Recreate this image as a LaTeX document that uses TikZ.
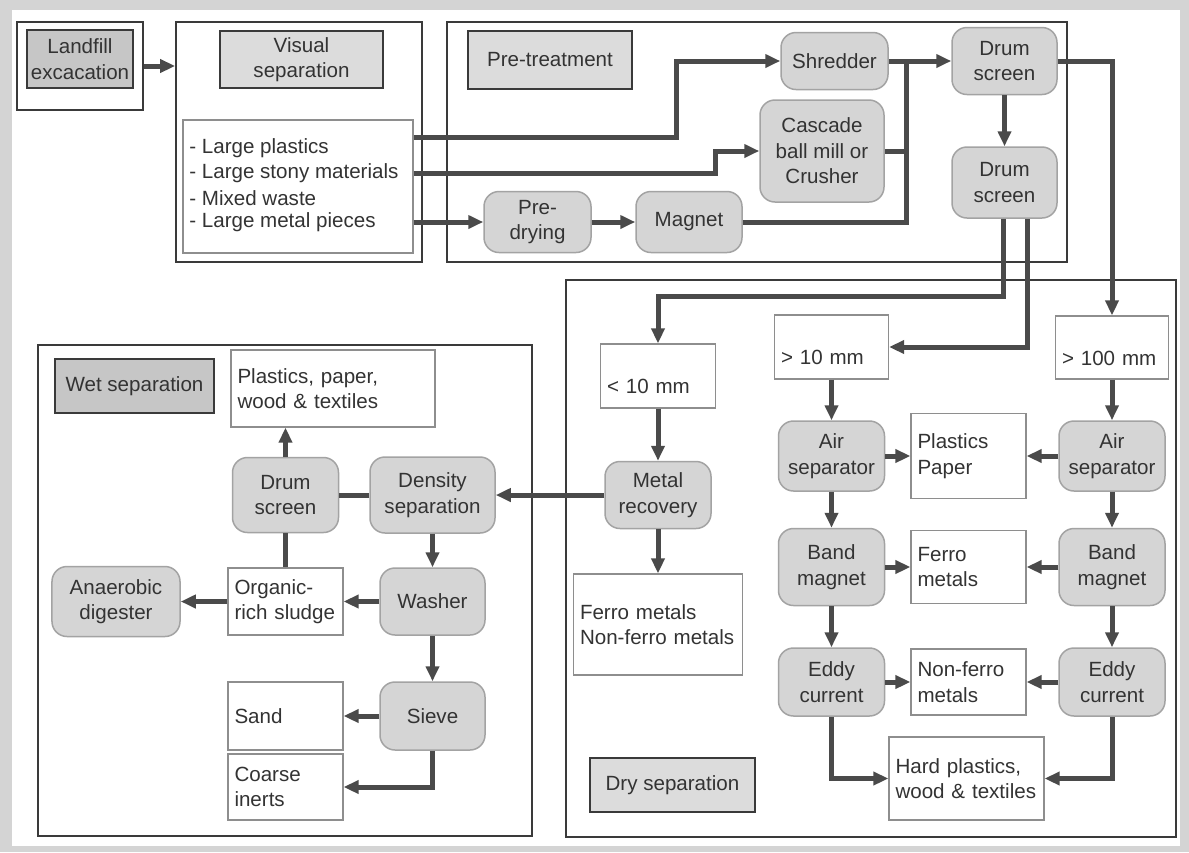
\documentclass[tikz,border=0pt]{standalone}
\usepackage{fontspec}
\setmainfont{Liberation Sans}
\usetikzlibrary{arrows.meta,positioning,calc}
\definecolor{ink}{HTML}{333333}
\definecolor{frameline}{HTML}{3A3A3A}
\definecolor{flowgray}{HTML}{4A4A4A}
\definecolor{procfill}{HTML}{D5D5D5}
\definecolor{procline}{HTML}{A3A3A3}
\definecolor{tagfill}{HTML}{DCDCDC}
\definecolor{tagdark}{HTML}{C6C6C6}
\definecolor{boxline}{HTML}{8E8E8E}
\definecolor{pagegray}{HTML}{D4D4D4}
\tikzset{
  frame/.style={draw=frameline,line width=0.35mm,inner sep=0pt},
  tag/.style={draw=frameline,fill=tagfill,line width=0.35mm,align=center,
              inner sep=0.5mm},
  darktag/.style={tag,fill=tagdark},
  proc/.style={draw=procline,fill=procfill,line width=0.3mm,rounded corners=3mm,
               align=center,inner sep=0.5mm},
  outbox/.style={draw=boxline,fill=white,line width=0.25mm,align=left,
                 inner xsep=1.3mm,inner ysep=0.8mm},
  item/.style={anchor=west,inner sep=0pt},
  lowtext/.style={text height=7.6mm,text depth=0.5mm},
  flow/.style={draw=flowgray,line width=1mm,-{Triangle[length=3mm,width=2.6mm]}},
  link/.style={draw=flowgray,line width=1mm}
}

\begin{document}
\begin{tikzpicture}[x=0.2mm,y=-0.2mm,text=ink,font=\fontsize{11.7}{14.5}\selectfont]
    \useasboundingbox (0,0) rectangle (1189,852);
    \fill[pagegray] (0,0) rectangle (1189,852);
    \fill[white] (12,10) rectangle (1180,846);

    % frames
    \node[frame,minimum width=25.2mm,minimum height=17.6mm] (fland) at (80,66) {};
    \node[frame,minimum width=49.2mm,minimum height=48mm] (fvis) at (299,142) {};
    \node[frame,minimum width=124mm,minimum height=48mm] (fpre) at (757,142) {};
    \node[frame,minimum width=98.8mm,minimum height=98.2mm] (fwet) at (285,590.5) {};
    \node[frame,minimum width=122mm,minimum height=111.4mm] (fdry) at (871,558.5) {};

    \node[darktag,minimum width=21.2mm,minimum height=11.6mm] (tland) at (80,59) {Landfill\\excacation};
    \node[tag,minimum width=32.6mm,minimum height=11.4mm] (tvis) at (301.5,59.5) {Visual\\separation};
    \node[tag,minimum width=32.8mm,minimum height=11.6mm] (tpre) at (550,60) {Pre-treatment};
    \node[darktag,minimum width=31.8mm,minimum height=10.8mm] (twet) at (134.5,386) {Wet separation};
    \node[tag,minimum width=33mm,minimum height=10.8mm] (tdry) at (672.5,785) {Dry separation};

    % visual separation
    \node[outbox,minimum width=46mm,minimum height=26.6mm] (lst) at (298,186.5) {};
    \node[item] (l1) at (189,148) {- Large plastics};
    \node[item] (l2) at (189,173) {- Large stony materials};
    \node[item] (l3) at (189,198) {- Mixed waste};
    \node[item] (l4) at (189,222) {- Large metal pieces};

    % pre-treatment
    \node[proc,minimum width=21.4mm,minimum height=11.4mm] (shred) at (834.5,61) {Shredder};
    \node[proc,minimum width=24.8mm,minimum height=20.4mm] (casc) at (822,151) {Cascade\\ball mill or\\Crusher};
    \node[proc,minimum width=21.4mm,minimum height=12.2mm] (predry) at (537.5,222) {Pre-\\drying};
    \node[proc,minimum width=21.2mm,minimum height=12.2mm] (magnet) at (689,222) {Magnet};
    \node[proc,minimum width=21mm,minimum height=13.4mm] (drumA) at (1004.5,61) {Drum\\screen};
    \node[proc,minimum width=21mm,minimum height=14.2mm] (drumB) at (1004.5,182.5) {Drum\\screen};
    \coordinate (merge) at (906,61);
    \coordinate (bus) at (658,296);

    % dry separation
    \node[outbox,lowtext,text width=20.4mm,minimum height=12.8mm] (lt10) at (658,376) {< 10 mm};
    \node[outbox,lowtext,text width=20.2mm,minimum height=12.8mm] (gt10) at (831.5,347) {> 10 mm};
    \node[outbox,lowtext,text width=20mm,minimum height=12.6mm] (gt100) at (1112,347.5) {> 100 mm};
    \node[proc,minimum width=21.2mm,minimum height=13.4mm] (metal) at (658,495) {Metal\\recovery};
    \node[outbox,text width=31.2mm,minimum height=20.2mm] (fnf) at (658,624.5) {Ferro metals\\Non-ferro metals};
    \node[proc,minimum width=21.2mm,minimum height=14mm] (airL) at (831.5,456) {Air\\separator};
    \node[proc,minimum width=21.2mm,minimum height=15.4mm] (bandL) at (831.5,567) {Band\\magnet};
    \node[proc,minimum width=21.2mm,minimum height=13.6mm] (eddyL) at (831.5,682) {Eddy\\current};
    \node[outbox,text width=20.4mm,minimum height=17mm] (pp) at (968.5,456) {Plastics\\Paper};
    \node[outbox,text width=20.4mm,minimum height=14.6mm] (ferro) at (968.5,567) {Ferro\\metals};
    \node[outbox,text width=20.4mm,minimum height=13.2mm] (nonf) at (968.5,682) {Non-ferro\\metals};
    \node[proc,minimum width=21.2mm,minimum height=14mm] (airR) at (1112,456) {Air\\separator};
    \node[proc,minimum width=21.2mm,minimum height=15.4mm] (bandR) at (1112,567) {Band\\magnet};
    \node[proc,minimum width=21.2mm,minimum height=13.6mm] (eddyR) at (1112,682) {Eddy\\current};
    \node[outbox,text width=28.4mm,minimum height=16.6mm] (hard) at (966.5,778.5) {Hard plastics,\\wood \& textiles};

    % wet separation
    \node[outbox,text width=38.2mm,minimum height=15.4mm] (plw) at (333,388.5) {Plastics, paper,\\wood \& textiles};
    \node[proc,minimum width=21.2mm,minimum height=15mm] (drumW) at (285.5,495) {Drum\\screen};
    \node[proc,minimum width=25mm,minimum height=15.2mm] (dens) at (432.5,495) {Density\\separation};
    \node[outbox,text width=20.4mm,minimum height=13.4mm] (org) at (285.5,601.5) {Organic-\\rich sludge};
    \node[proc,minimum width=21mm,minimum height=13.4mm] (washer) at (432.5,601.5) {Washer};
    \node[proc,minimum width=25.6mm,minimum height=14mm] (anaer) at (116,601.5) {Anaerobic\\digester};
    \node[outbox,text width=20.4mm,minimum height=13.6mm] (sand) at (285.5,716) {Sand};
    \node[proc,minimum width=21mm,minimum height=13.6mm] (sieve) at (432.5,716) {Sieve};
    \node[outbox,text width=20.4mm,minimum height=13.2mm] (coarse) at (285.5,787) {Coarse\\inerts};

    % connectors
    \draw[flow] (fland.east) -- (fland.east -| fvis.west);
    \draw[flow] ([yshift=2.2mm]l1.center -| lst.east) -| ([xshift=-20.8mm]shred.west) -- (shred.west);
    \draw[flow] (l2.center -| lst.east) -| ([xshift=-8.8mm]casc.west) -- (casc.west);
    \draw[flow] (l4.center -| lst.east) -- (predry.west);
    \draw[flow] (predry) -- (magnet);
    \draw[link] (magnet.east) -| (merge);
    \draw[link] (casc.east) -- (casc.east -| merge);
    \draw[flow] (shred.east) -- (drumA.west);
    \draw[flow] (drumA) -- (drumB);
    \draw[flow] (drumA.east) -| (gt100.north);
    \draw[flow] ([xshift=-0.3mm]drumB.south) |- (bus) -- (lt10.north);
    \draw[flow] ([xshift=4.5mm]drumB.south) |- (gt10.east);

    \draw[flow] (lt10) -- (metal);
    \draw[flow] (metal) -- (fnf);
    \draw[flow] (metal.west) -- (dens.east);
    \draw[flow] (gt10) -- (airL);
    \draw[flow] (airL) -- (bandL);
    \draw[flow] (bandL) -- (eddyL);
    \draw[flow] (eddyL.south) |- (hard.west);
    \draw[flow] (gt100) -- (airR);
    \draw[flow] (airR) -- (bandR);
    \draw[flow] (bandR) -- (eddyR);
    \draw[flow] (eddyR.south) |- (hard.east);
    \draw[flow] (airL) -- (pp);
    \draw[flow] (bandL) -- (ferro);
    \draw[flow] (eddyL) -- (nonf);
    \draw[flow] (airR) -- (pp);
    \draw[flow] (bandR) -- (ferro);
    \draw[flow] (eddyR) -- (nonf);

    \draw[link] (dens.west) -- (drumW.east);
    \draw[flow] (drumW.north) -- (drumW.north |- plw.south);
    \draw[link] (drumW.south) -- (org.north);
    \draw[flow] (dens) -- (washer);
    \draw[flow] (washer) -- (org);
    \draw[flow] (org) -- (anaer);
    \draw[flow] (washer) -- (sieve);
    \draw[flow] (sieve) -- (sand);
    \draw[flow] (sieve.south) |- (coarse.east);
\end{tikzpicture}
\end{document}
